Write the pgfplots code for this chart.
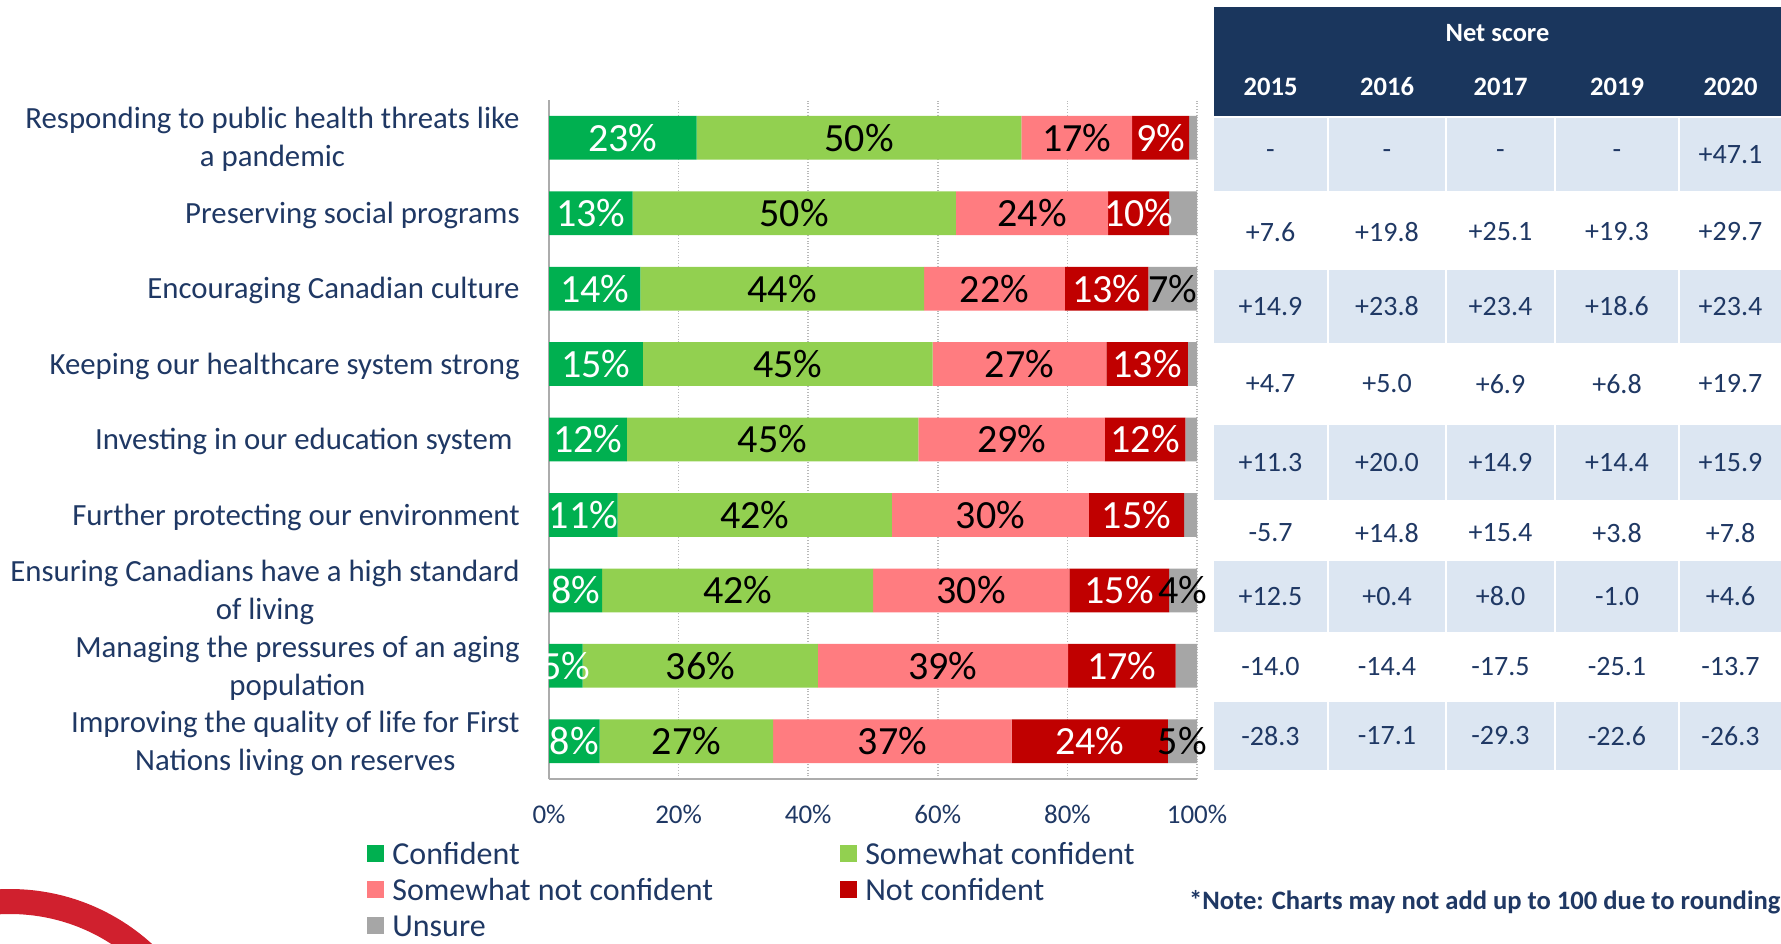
\documentclass[border=0pt]{standalone}
\usepackage{pgfplots}
\pgfplotsset{compat=1.18}
\usepackage{pgfplotstable}
\usepackage{fontspec}
\setmainfont{Carlito}
\definecolor{cConf}{HTML}{00B050}
\definecolor{cSome}{HTML}{92D050}
\definecolor{cSnc}{HTML}{FF7C80}
\definecolor{cNc}{HTML}{C00000}
\definecolor{cUns}{HTML}{A6A6A6}
\definecolor{navy}{HTML}{1A365D}
\definecolor{txt}{HTML}{1F3864}
\definecolor{cell}{HTML}{DCE6F2}
\definecolor{arcred}{HTML}{D0202E}

\pgfplotstableread{
idx conf some snc nc uns lconf lsome lsnc lnc luns
8 22.8 50.1 17.1 8.8 1.2 23 50 17 9 n
7 12.9 49.9 23.5 9.4 4.3 13 50 24 10 n
6 14.1 43.8 21.7 12.9 7.5 14 44 22 13 7
5 14.5 44.7 26.8 12.6 1.4 15 45 27 13 n
4 12.0 45.0 28.8 12.4 1.8 12 45 29 12 n
3 10.6 42.3 30.4 14.7 2.0 11 42 30 15 n
2 8.2 41.8 30.3 15.4 4.3 8 42 30 15 4
1 5.2 36.3 38.6 16.6 3.3 5 36 39 17 n
0 7.8 26.8 36.8 24.1 4.5 8 27 37 24 5
}\data

\def\nolab{n}
\newcommand\barlab{\edef\tmp{\pgfplotspointmeta}\ifx\tmp\nolab\else\tmp\%\fi}

\pgfplotsset{lsq/.style={legend image code/.code={\fill[##1,draw=none] (0pt,-4.25pt) rectangle (8.5pt,4.25pt);}}}

\begin{document}
\begin{tikzpicture}
\useasboundingbox (0,0) rectangle (890.5pt,-471.5pt);
\fill[white] (0,0) rectangle (890.5pt,-471.5pt);
\begin{scope}
\clip (0,0) rectangle (890.5pt,-471.5pt);
\draw[arcred, line width=12.5pt] (5pt,-550pt) circle[radius=99.25pt];
\end{scope}
% net score table
\fill[navy] (607pt,-3.5pt) rectangle (890.5pt,-58pt);
\node[text=white, font=\fontsize{13.2}{15}\selectfont\bfseries] at (748.75pt,-16.5pt) {Net score};
\foreach \cx/\yr in {635.25/2015,693.5/2016,750.25/2017,808.5/2019,865.25/2020}
  \node[text=white, font=\fontsize{13.3}{15}\selectfont\bfseries] at (\cx pt,-43.5pt) {\yr};
\foreach \ya/\yb in {59/95.5,135/171.5,212.5/250,280.5/316,351/385}
  \foreach \xa/\xb in {607/663.5,664.5/722.5,723.5/777,778/839,840/890.5}
    \fill[cell] (\xa pt,-\ya pt) rectangle (\xb pt,-\yb pt);
\foreach \ry/\va/\vb/\vc/\vd/\ve in {
  77.25/-/-/-/-/+47.1,
  116/+7.6/+19.8/+25.1/+19.3/+29.7,
  153.25/+14.9/+23.8/+23.4/+18.6/+23.4,
  192/+4.7/+5.0/+6.9/+6.8/+19.7,
  231.25/+11.3/+20.0/+14.9/+14.4/+15.9,
  266.5/-5.7/+14.8/+15.4/+3.8/+7.8,
  298.25/+12.5/+0.4/+8.0/-1.0/+4.6,
  333.5/-14.0/-14.4/-17.5/-25.1/-13.7,
  368/-28.3/-17.1/-29.3/-22.6/-26.3}{
  \node[text=txt, font=\fontsize{14}{16}\selectfont] at (635.25pt,-\ry pt) {\va};
  \node[text=txt, font=\fontsize{14}{16}\selectfont] at (693.5pt,-\ry pt) {\vb};
  \node[text=txt, font=\fontsize{14}{16}\selectfont] at (750.25pt,-\ry pt) {\vc};
  \node[text=txt, font=\fontsize{14}{16}\selectfont] at (808.5pt,-\ry pt) {\vd};
  \node[text=txt, font=\fontsize{14}{16}\selectfont] at (865.25pt,-\ry pt) {\ve};
}
\node[anchor=east, text=txt, inner xsep=0pt, font=\fontsize{13.3}{16}\selectfont\bfseries] at (890.3pt,-451pt) {*Note: Charts may not add up to 100 due to rounding};

\begin{axis}[
  at={(274.5pt,-389.5pt)}, anchor=south west,
  scale only axis, width=324pt, height=339.5pt,
  xbar stacked, bar width=0.58,
  xmin=0, xmax=100, ymin=-0.5, ymax=8.5,
  clip=false,
  xtick={0,20,40,60,80,100},
  xticklabels={0\%,20\%,40\%,60\%,80\%,100\%},
  ytick={0,1,2,3,4,5,6,7,8},
  yticklabels={
    {Improving the quality of life for First\\Nations living on reserves},
    {Managing the pressures of an aging\\population},
    {Ensuring Canadians have a high standard\\of living},
    {Further protecting our environment},
    {Investing in our education system~},
    {Keeping our healthcare system strong},
    {Encouraging Canadian culture},
    {Preserving social programs},
    {Responding to public health threats like\\a pandemic}},
  major tick length=0pt,
  xmajorgrids, grid style={densely dotted, gray!55, line width=0.8pt},
  axis x line*=bottom, axis y line*=left,
  axis line style={-, draw=gray!65, line width=1pt},
  xticklabel style={font=\fontsize{13.5}{16}\selectfont, text=txt, anchor=center, yshift=-17.5pt},
  yticklabel style={font=\fontsize{15.4}{19}\selectfont, text=txt, align=center, anchor=east, inner sep=0pt, xshift=-14.5pt, yshift=-1pt},
  point meta=explicit symbolic,
  nodes near coords={\barlab},
  nodes near coords align=center,
  every node near coord/.append style={font=\fontsize{20}{24}\selectfont, anchor=center, inner sep=0pt},
  legend columns=2,
  legend cell align=left,
  legend style={at={(-0.2809,-0.0875)}, anchor=north west, draw=none, fill=none, inner sep=0pt,
    font=\fontsize{16}{19}\selectfont, text=txt, row sep=3.3pt,
    nodes={inner sep=0pt, text height=12.7pt, text depth=2pt},
    /tikz/column 1/.style={column sep=4pt},
    /tikz/column 2/.style={column sep=63.5pt},
    /tikz/column 3/.style={column sep=4pt}},
]
\addplot[fill=cConf, draw=none, lsq, every node near coord/.append style={text=white}] table[y=idx, x=conf, meta=lconf]{\data};
\addlegendentry{Confident}
\addplot[fill=cSome, draw=none, lsq, every node near coord/.append style={text=black}] table[y=idx, x=some, meta=lsome]{\data};
\addlegendentry{Somewhat confident}
\addplot[fill=cSnc, draw=none, lsq, every node near coord/.append style={text=black}] table[y=idx, x=snc, meta=lsnc]{\data};
\addlegendentry{Somewhat not confident}
\addplot[fill=cNc, draw=none, lsq, every node near coord/.append style={text=white}] table[y=idx, x=nc, meta=lnc]{\data};
\addlegendentry{Not confident}
\addplot[fill=cUns, draw=none, lsq, every node near coord/.append style={text=black}] table[y=idx, x=uns, meta=luns]{\data};
\addlegendentry{Unsure}
\end{axis}
\end{tikzpicture}
\end{document}
